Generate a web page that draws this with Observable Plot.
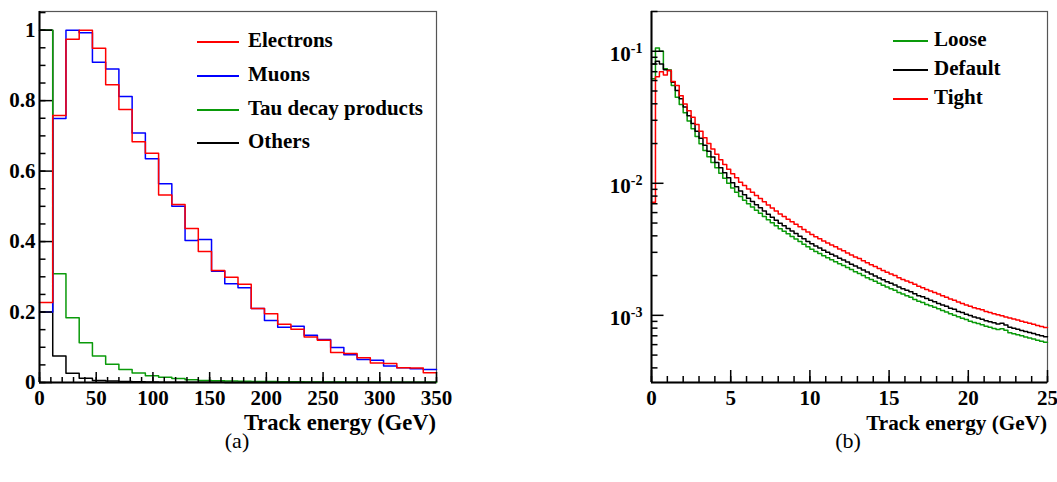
<!DOCTYPE html>
<html><head><meta charset="utf-8">
<script src="https://cdn.jsdelivr.net/npm/d3@7"></script>
<script src="https://cdn.jsdelivr.net/npm/@observablehq/plot@0.6"></script>
<style>
body{margin:0;background:#fff;}
#wrap{position:relative;width:1057px;height:482px;font-family:"Liberation Serif","Times New Roman",serif;color:#000;}
#wrap svg{position:absolute;top:0;}
.t{position:absolute;white-space:nowrap;font-weight:bold;font-size:21px;line-height:1;}
.ax{font-size:22.5px;}
.ax2{font-size:21.2px;}
.lg{position:absolute;height:0;border-top:2px solid;}
.cap{position:absolute;white-space:nowrap;font-size:22px;line-height:1;transform:translateX(-50%);}
</style></head><body><div id="wrap"></div>
<script>
// ---- panel (a): track energy by particle type, 30 bins over 0-350 GeV ----
const energyRangeA = [0, 350];
const electrons = [0.227, 0.758, 0.974, 1.0, 0.949, 0.845, 0.775, 0.683, 0.651, 0.532, 0.505, 0.437, 0.372, 0.318, 0.299, 0.279, 0.210, 0.195, 0.165, 0.151, 0.129, 0.120, 0.085, 0.082, 0.070, 0.055, 0.054, 0.042, 0.041, 0.028];
const muons = [0.200, 0.749, 1.0, 0.993, 0.909, 0.890, 0.812, 0.708, 0.635, 0.564, 0.500, 0.403, 0.406, 0.316, 0.280, 0.269, 0.210, 0.176, 0.157, 0.160, 0.134, 0.122, 0.099, 0.079, 0.065, 0.063, 0.047, 0.042, 0.039, 0.037];
const tauProducts = [1.0, 0.309, 0.184, 0.113, 0.075, 0.052, 0.037, 0.027, 0.0195, 0.015, 0.011, 0.008, 0.006, 0.005, 0.004, 0.0035, 0.003, 0.0025, 0.002, 0.0018, 0.0015, 0.0013, 0.0012, 0.001, 0.0009, 0.0008, 0.0007, 0.0006, 0.0005, 0.0005];
const others = [1.0, 0.075, 0.026, 0.012, 0.006, 0.004, 0.003, 0.002, 0.0015, 0.001, 0.0008, 0.0006, 0.0005, 0.0004, 0.0003, 0.0003, 0.0002, 0.0002, 0.0002, 0.0001, 0.0001, 0.0001, 0.0001, 0.0001, 0.0001, 0.0001, 0.0001, 0.0001, 0.0001, 0.0001];
const xTicksA = [0, 50, 100, 150, 200, 250, 300, 350];
const xMinorA = d3.range(0, 351, 10);
const yTicksA = [0, 0.2, 0.4, 0.6, 0.8, 1];
const yMinorA = d3.range(0, 1.051, 0.05);
const yTopA = 1.053;

// ---- panel (b): track energy for three selections, 100 bins over 0-25 GeV ----
const energyRangeB = [0, 25];
const tight = [0.0072, 0.064, 0.070, 0.066, 0.0715, 0.059, 0.055, 0.046,
  0.0398, 0.0355, 0.0316, 0.0279, 0.0248, 0.0221, 0.0200, 0.0182, 0.0166, 0.0151, 0.0139, 0.0128, 0.0118, 0.0110, 0.0102,
  0.00962, 0.00906, 0.00855, 0.00809, 0.00766, 0.00724, 0.00686, 0.00650, 0.00617, 0.00586,
  0.00560, 0.00535, 0.00511, 0.00490, 0.00468, 0.00447, 0.00427, 0.00409, 0.00394, 0.00380,
  0.00366, 0.00353, 0.00341, 0.00330, 0.00318, 0.00308, 0.00297, 0.00287, 0.00277, 0.00270,
  0.00259, 0.00250, 0.00242, 0.00234, 0.00226, 0.00219, 0.00212, 0.00206, 0.00200, 0.00193,
  0.00187, 0.00182, 0.00177, 0.00172, 0.00166, 0.00162, 0.00157, 0.00153, 0.00149, 0.00145,
  0.00141, 0.00137, 0.00133, 0.00130, 0.00126, 0.00123, 0.00120, 0.00117, 0.00114, 0.00112,
  0.00110, 0.00107, 0.00105, 0.00103, 0.00101, 0.000991, 0.000973, 0.000955, 0.000938, 0.000921,
  0.000904, 0.000887, 0.000871, 0.000855, 0.000839, 0.000824, 0.000809];
const defaultCut = [0.080, 0.084, 0.080, 0.0723, 0.0715, 0.0583, 0.0505, 0.0436,
  0.0378, 0.0325, 0.0284, 0.0248, 0.0219, 0.0194, 0.0175, 0.0158, 0.0144, 0.0131, 0.0120, 0.0110, 0.0101, 0.00942, 0.00873,
  0.00819, 0.00771, 0.00728, 0.00688, 0.00652, 0.00616, 0.00584, 0.00553, 0.00525, 0.00499,
  0.00477, 0.00455, 0.00435, 0.00417, 0.00398, 0.00380, 0.00363, 0.00348, 0.00335, 0.00323,
  0.00311, 0.00300, 0.00290, 0.00281, 0.00271, 0.00262, 0.00253, 0.00244, 0.00236, 0.00228,
  0.00220, 0.00213, 0.00206, 0.00199, 0.00192, 0.00186, 0.00180, 0.00175, 0.00170, 0.00164,
  0.00159, 0.00155, 0.00151, 0.00146, 0.00141, 0.00138, 0.00134, 0.00130, 0.00127, 0.00123,
  0.00120, 0.00117, 0.00113, 0.00111, 0.00107, 0.00105, 0.00102, 0.000996, 0.000970, 0.000953,
  0.000936, 0.000911, 0.000894, 0.000877, 0.000860, 0.000870, 0.000845, 0.000813, 0.000798, 0.000784,
  0.000769, 0.000755, 0.000741, 0.000728, 0.000714, 0.000701, 0.000688];
const loose = [0.062, 0.106, 0.100, 0.0736, 0.072, 0.055, 0.0449, 0.0395,
  0.0342, 0.0296, 0.0259, 0.0226, 0.0199, 0.0177, 0.0159, 0.0144, 0.0131, 0.0119, 0.0109, 0.0100, 0.00920, 0.00856, 0.00795,
  0.00744, 0.00700, 0.00661, 0.00625, 0.00592, 0.00560, 0.00530, 0.00502, 0.00477, 0.00453,
  0.00433, 0.00414, 0.00395, 0.00379, 0.00362, 0.00346, 0.00330, 0.00316, 0.00305, 0.00294,
  0.00283, 0.00273, 0.00264, 0.00255, 0.00246, 0.00238, 0.00230, 0.00222, 0.00214, 0.00207,
  0.00200, 0.00193, 0.00187, 0.00181, 0.00175, 0.00169, 0.00164, 0.00159, 0.00155, 0.00149,
  0.00145, 0.00141, 0.00137, 0.00132, 0.00128, 0.00125, 0.00121, 0.00118, 0.00115, 0.00112,
  0.00109, 0.00106, 0.00103, 0.00100, 0.000974, 0.000951, 0.000928, 0.000904, 0.000881, 0.000866,
  0.000850, 0.000827, 0.000812, 0.000796, 0.000781, 0.000790, 0.000770, 0.000738, 0.000725, 0.000712,
  0.000699, 0.000686, 0.000673, 0.000661, 0.000649, 0.000637, 0.000625];
const xTicksB = [0, 5, 10, 15, 20, 25];
const xMinorB = d3.range(0, 26, 1);
const yTicksB = [1e-3, 1e-2, 1e-1];
const yMinorB = [4e-4,5e-4,6e-4,7e-4,8e-4,9e-4,2e-3,3e-3,4e-3,5e-3,6e-3,7e-3,8e-3,9e-3,2e-2,3e-2,4e-2,5e-2,6e-2,7e-2,8e-2,9e-2,2e-1];
const yDomainB = [3.1e-4, 0.2];

const legendA = ["Electrons", "Muons", "Tau decay products", "Others"];
const colorsA = ["#ff0000", "#0000ff", "#0a9a0a", "#000000"];
const legendB = ["Loose", "Default", "Tight"];
const colorsB = ["#0a9a0a", "#000000", "#ff0000"];
const axisTitle = "Track energy (GeV)";

function steps(values, range) {
  const w = (range[1] - range[0]) / values.length;
  const pts = values.map((v, i) => ({x: range[0] + i * w, y: v}));
  pts.push({x: range[1], y: values[values.length - 1]});
  return pts;
}
const style = {fontFamily: "Liberation Serif, serif", fontWeight: "bold", fontSize: "21px", color: "black", background: "transparent", overflow: "visible"};
const blank = () => "";

const svgA = Plot.plot({
  width: 450, height: 420, marginTop: 11, marginLeft: 39, marginRight: 14, marginBottom: 38,
  style,
  x: {domain: energyRangeA},
  y: {domain: [0, yTopA]},
  marks: [
    Plot.frame({stroke: "#555", strokeWidth: 1.2}),
    Plot.line(steps(others, energyRangeA), {x: "x", y: "y", curve: "step-after", stroke: colorsA[3], strokeWidth: 1.5}),
    Plot.line(steps(tauProducts, energyRangeA), {x: "x", y: "y", curve: "step-after", stroke: colorsA[2], strokeWidth: 1.5}),
    Plot.line(steps(muons, energyRangeA), {x: "x", y: "y", curve: "step-after", stroke: colorsA[1], strokeWidth: 1.5}),
    Plot.line(steps(electrons, energyRangeA), {x: "x", y: "y", curve: "step-after", stroke: colorsA[0], strokeWidth: 1.5}),
    Plot.ruleX([energyRangeA[0]], {stroke: "black", strokeWidth: 2}),
    Plot.ruleY([0], {stroke: "black", strokeWidth: 2}),
    Plot.axisX({ticks: xMinorA, tickSize: 5, dy: -5, tickFormat: blank, label: null, strokeWidth: 1.5}),
    Plot.axisX({ticks: xTicksA, tickSize: 10, dy: -10, tickFormat: blank, label: null, strokeWidth: 1.5}),
    Plot.axisX({ticks: xTicksA, tickSize: 0, tickPadding: 8, tickFormat: d => String(d), label: null}),
    Plot.axisY({ticks: yMinorA, tickSize: 6.5, dx: 6.5, tickFormat: blank, label: null, strokeWidth: 1.5}),
    Plot.axisY({ticks: yTicksA, tickSize: 13, dx: 13, tickFormat: blank, label: null, strokeWidth: 1.5}),
    Plot.axisY({ticks: yTicksA, tickSize: 0, tickPadding: 4, tickFormat: d => String(d), label: null})
  ]
});
svgA.style.left = "0px";

const svgB = Plot.plot({
  width: 445, height: 420, marginTop: 11, marginLeft: 39, marginRight: 10, marginBottom: 38,
  style,
  x: {domain: energyRangeB},
  y: {type: "log", domain: yDomainB},
  marks: [
    Plot.frame({stroke: "#555", strokeWidth: 1.2}),
    Plot.line(steps(loose, energyRangeB), {x: "x", y: "y", curve: "step-after", stroke: colorsB[0], strokeWidth: 1.5}),
    Plot.line(steps(defaultCut, energyRangeB), {x: "x", y: "y", curve: "step-after", stroke: colorsB[1], strokeWidth: 1.5}),
    Plot.line(steps(tight, energyRangeB), {x: "x", y: "y", curve: "step-after", stroke: colorsB[2], strokeWidth: 1.5}),
    Plot.ruleX([energyRangeB[0]], {stroke: "black", strokeWidth: 2}),
    Plot.ruleY([yDomainB[0]], {stroke: "black", strokeWidth: 2}),
    Plot.axisX({ticks: xMinorB, tickSize: 6, dy: -6, tickFormat: blank, label: null, strokeWidth: 1.5}),
    Plot.axisX({ticks: xTicksB, tickSize: 12, dy: -12, tickFormat: blank, label: null, strokeWidth: 1.5}),
    Plot.axisX({ticks: xTicksB, tickSize: 0, tickPadding: 8, tickFormat: d => String(d), label: null}),
    Plot.axisY({ticks: yMinorB, tickSize: 6.5, dx: 6.5, tickFormat: blank, label: null, strokeWidth: 1.5}),
    Plot.axisY({ticks: yTicksB, tickSize: 12.5, dx: 12.5, tickFormat: blank, label: null, strokeWidth: 1.5}),
    Plot.axisY({ticks: yTicksB, tickSize: 0, tickPadding: 9, dy: 3, tickFormat: d => "10^" + Math.round(Math.log10(d)), label: null})
  ]
});
svgB.style.left = "612px";
// render "10^-n" as 10 with a superscript exponent
svgB.querySelectorAll("text").forEach(t => {
  const s = t.textContent;
  if (s.startsWith("10^")) {
    const exp = s.slice(3);
    t.textContent = "";
    const ns = "http://www.w3.org/2000/svg";
    const a = document.createElementNS(ns, "tspan"); a.textContent = "10";
    const b = document.createElementNS(ns, "tspan"); b.textContent = exp;
    b.setAttribute("dy", "-0.6em"); b.setAttribute("font-size", "14px");
    t.appendChild(a); t.appendChild(b);
  }
});

const wrap = document.getElementById("wrap");
wrap.appendChild(svgA);
wrap.appendChild(svgB);

function addText(cls, txt, left, top, extra) {
  const d = document.createElement("div");
  d.className = cls; d.textContent = txt;
  d.style.left = left + "px"; d.style.top = top + "px";
  if (extra) Object.assign(d.style, extra);
  wrap.appendChild(d);
}
function addLine(x, y, w, color) {
  const d = document.createElement("div");
  d.className = "lg"; d.style.left = x + "px"; d.style.top = y + "px"; d.style.width = w + "px"; d.style.borderColor = color;
  wrap.appendChild(d);
}
// axis titles (right-aligned to plot edge)
addText("t ax", axisTitle, 0, 412, {width: "436px", textAlign: "right"});
addText("t ax2", axisTitle, 0, 413, {width: "1047px", textAlign: "right"});
// legends
const legYA = [41, 75, 108.5, 142];
legendA.forEach((s, i) => { addLine(197, legYA[i], 42, colorsA[i]); addText("t", s, 248, legYA[i] - 11); });
const legYB = [40, 69, 97.5];
legendB.forEach((s, i) => { addLine(893, legYB[i], 35, colorsB[i]); addText("t", s, 934, legYB[i] - 11); });
// captions
addText("cap", "(a)", 237, 430);
addText("cap", "(b)", 848, 430);
</script></body></html>
